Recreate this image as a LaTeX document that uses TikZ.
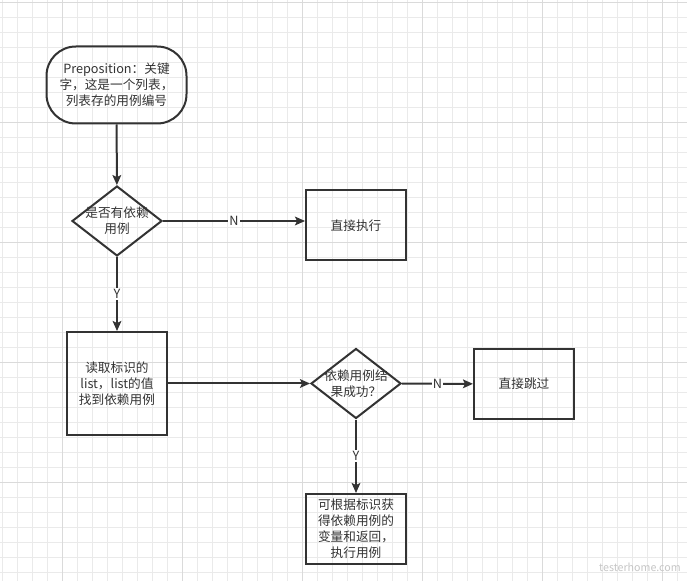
\documentclass[tikz,border=0pt]{standalone}
\usepackage{fontspec}
\newfontfamily\cjk{Noto Sans CJK SC}
\usetikzlibrary{shapes.geometric,arrows.meta}
\definecolor{ink}{HTML}{333333}
\definecolor{gridminor}{HTML}{EAEAEA}
\definecolor{gridmajor}{HTML}{DADADA}
\tikzset{
  txt/.style={font=\cjk\fontsize{9.5}{12}\selectfont,text=ink,align=center},
  startstop/.style={txt,draw=ink,line width=1.5pt,rounded corners=22pt,
    minimum width=105pt,minimum height=57.75pt,inner sep=0pt},
  process/.style={txt,draw=ink,line width=1.5pt,
    minimum width=75pt,minimum height=52.5pt,inner sep=0pt},
  decision/.style={draw=ink,line width=1.5pt,diamond,aspect=1.29,
    minimum width=67.5pt,minimum height=52.5pt,inner sep=0pt},
  arrow/.style={draw=ink,line width=1.5pt,-{Stealth[length=7.5pt,width=6.5pt,inset=1.5pt]}},
  lbl/.style={txt,fill=white,inner sep=1pt}
}
\begin{document}
\begin{tikzpicture}[x=0.75pt,y=-0.75pt]
\useasboundingbox (0,0) rectangle (687,581);
\fill[white] (0,0) rectangle (687,581);
\foreach \gx in {2,17,...,687} \draw[gridminor,line width=0.6pt] (\gx,0) -- (\gx,581);
\foreach \gy in {2,17,...,581} \draw[gridminor,line width=0.6pt] (0,\gy) -- (687,\gy);
\foreach \gx in {62,182,...,687} \draw[gridmajor,line width=0.6pt] (\gx,0) -- (\gx,581);
\foreach \gy in {2,122,...,581} \draw[gridmajor,line width=0.6pt] (0,\gy) -- (687,\gy);

\node[startstop] (start) at (116.5,85) {Preposition：关键\\字，这是一个列表，\\列表存的用例编号};
\node[decision,label={[txt]center:是否有依赖\\用例}] (dep) at (117,221) {};
\node[process] (exec) at (356,225.5) {直接执行};
\node[process,minimum height=77.25pt] (read) at (117,383.5) {读取标识的\\list，list的值\\找到依赖用例};
\node[decision,label={[txt]center:依赖用例结\\果成功？}] (ok) at (356,383.5) {};
\node[process] (skip) at (524,384) {直接跳过};
\node[process] (run) at (356,529) {可根据标识获\\得依赖用例的\\变量和返回，\\执行用例};
\node[font=\cjk\fontsize{8}{8}\selectfont\itshape,text=gray!45] (mark) at (640,567) {testerhome.com};

\draw[arrow] (start) -- (dep);
\draw[arrow] (dep) -- node[lbl]{N} (exec.west |- dep);
\draw[arrow] (dep) -- node[lbl]{Y} (read);
\draw[arrow] (read) -- (ok);
\draw[arrow] (ok) -- node[lbl]{N} (skip);
\draw[arrow] (ok) -- node[lbl]{Y} (run);
\end{tikzpicture}
\end{document}
